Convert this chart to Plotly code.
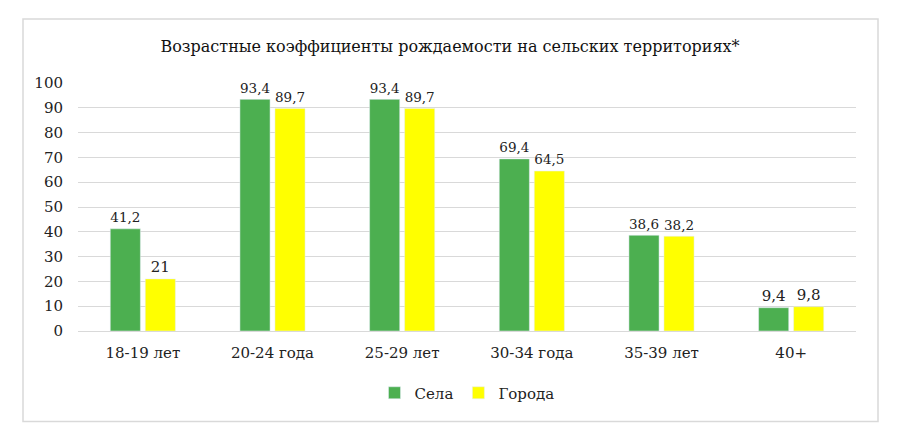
import plotly.graph_objects as go

categories = ["18-19 лет", "20-24 года", "25-29 лет", "30-34 года", "35-39 лет", "40+"]
selo = [41.2, 93.4, 93.4, 69.4, 38.6, 9.4]
goroda = [21, 89.7, 89.7, 64.5, 38.2, 9.8]
series_names = ["Села", "Города"]
title_text = "Возрастные коэффициенты рождаемости на сельских территориях*"

def fmt(v):
    s = ("%g" % v).replace(".", ",")
    return s

FONT = "DejaVu Serif"

fig = go.Figure()
fig.add_trace(go.Bar(x=categories, y=selo, name=series_names[0], marker_color="#4CAF50",
                     text=[fmt(v) for v in selo], textposition="outside", cliponaxis=False,
                     textfont=dict(family=FONT, size=15, color="#222")))
fig.add_trace(go.Bar(x=categories, y=goroda, name=series_names[1], marker_color="#FFFF00",
                     text=[fmt(v) for v in goroda], textposition="outside", cliponaxis=False,
                     textfont=dict(family=FONT, size=15, color="#222")))

L, R, T, B = 78, 856, 83, 331
W, H = R - L, B - T
def px(x): return (x - L) / W
def py(y): return (B - y) / H

fig.update_layout(
    width=900, height=444,
    margin=dict(l=L, r=900 - R, t=T, b=444 - B),
    paper_bgcolor="white", plot_bgcolor="white",
    barmode="group", bargap=0.46, bargroupgap=0.14,
    font=dict(family=FONT, size=15, color="#222"),
    title=dict(text=title_text, x=0.5, xanchor="center", y=1 - 46 / 444, yanchor="middle",
               font=dict(family=FONT, size=16, color="#111")),
    showlegend=True,
    legend=dict(orientation="h", x=0.5, xanchor="center", y=py(393), yanchor="middle",
                font=dict(family=FONT, size=15, color="#222"), itemwidth=30, tracegroupgap=0),
    xaxis=dict(showgrid=False, showline=True, linecolor="#d9d9d9", linewidth=1,
               ticks="", ticklabelstandoff=8, tickfont=dict(family=FONT, size=15)),
    yaxis=dict(range=[0, 100], dtick=10, showgrid=True, gridcolor="#d9d9d9", gridwidth=1,
               zeroline=False, showline=False, ticklabelstandoff=14,
               tickfont=dict(family=FONT, size=15)),
    shapes=[dict(type="rect", xref="paper", yref="paper",
                 x0=px(23), x1=px(878), y0=py(421.5), y1=py(19),
                 line=dict(color="#d9d9d9", width=1.5), fillcolor="rgba(0,0,0,0)", layer="below")],
)

fig.write_html("out.html")
